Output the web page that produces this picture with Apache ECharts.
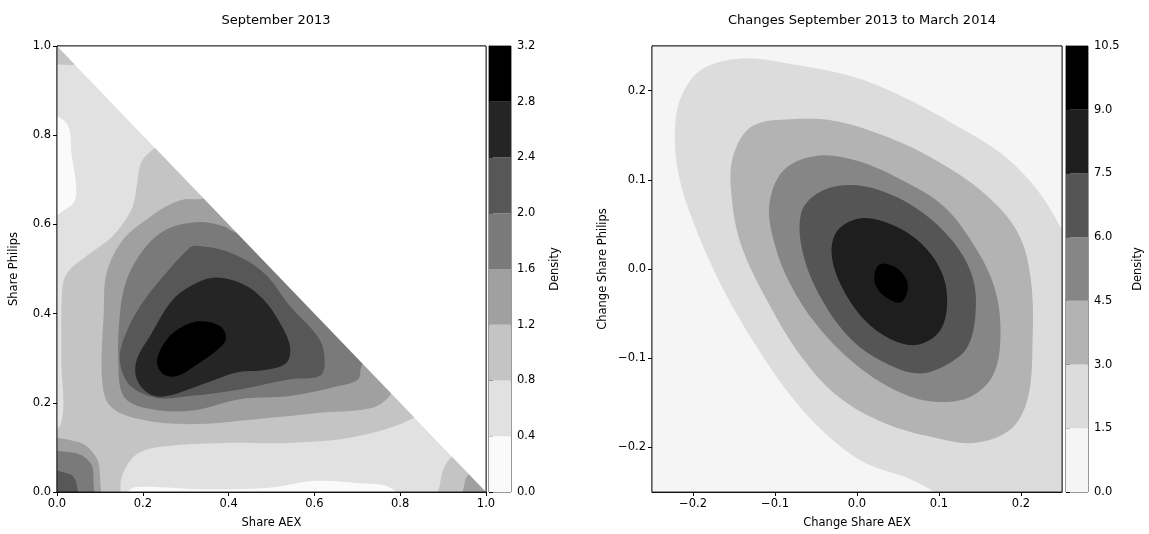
<!DOCTYPE html>
<html><head><meta charset="utf-8">
<script src="https://cdn.jsdelivr.net/npm/echarts@6/dist/echarts.min.js"></script>
<style>html,body{margin:0;background:#fff}#c{width:1149px;height:534px}</style>
</head><body><div id="c"></div>
<script>
// ---- Left panel: contour regions (Share AEX, Share Philips) ----
const leftLevels = [0,0.4,0.8,1.2,1.6,2.0,2.4,2.8,3.2];
const leftColors = ['#fafafa','#e1e1e1','#c4c4c4','#a0a0a0','#7a7a7a','#575757','#252525','#000000'];
const leftTriangle = [[0,0],[1,0],[0,1]];
const leftOutside = [[0,1],[1,0],[1.1,0],[1.1,1.1],[0,1.1]];
const leftFrame = [[0,0],[1,0],[1,1],[0,1]];
const leftHoleEdge = [[-0.05,0.843],[0.02,0.83],[0.035,0.75],[0.045,0.67],[0.03,0.64],[-0.05,0.61]];
const leftHoleBottom = [[0.15,-0.05],[0.17,0.005],[0.2,0.012],[0.35,0.006],[0.5,0.01],[0.6,0.025],[0.7,0.02],[0.78,0.008],[0.82,-0.05]];
const leftL2Main = [[0.32,0.85],[0.24,0.78],[0.198,0.742],[0.186,0.686],[0.174,0.634],[0.13,0.574],[0.07,0.53],[0.023,0.49],[0.012,0.45],[0.01,0.3],[0.008,0.15],[-0.05,0.13],[-0.05,-0.05],[0.14,-0.05],[0.15,0.03],[0.18,0.08],[0.23,0.1],[0.39,0.11],[0.54,0.11],[0.70,0.125],[0.833,0.167],[0.95,0.25],[0.7,0.6]];
const leftL2Corner = [[-0.05,1.05],[-0.05,0.97],[0.02,0.958],[0.06,0.965],[0.1,1.05]];
const leftL2Right = [[0.891,-0.05],[0.895,0.03],[0.905,0.06],[0.93,0.085],[0.99,0.1],[1.08,-0.05]];
const leftL3Main = [[0.42,0.72],[0.344,0.66],[0.295,0.656],[0.256,0.641],[0.209,0.611],[0.155,0.567],[0.116,0.492],[0.109,0.402],[0.105,0.253],[0.124,0.193],[0.194,0.163],[0.31,0.152],[0.465,0.163],[0.62,0.178],[0.736,0.189],[0.775,0.215],[0.8,0.26],[0.85,0.3],[0.6,0.6]];
const leftL3Blob = [[-0.05,0.115],[0.05,0.112],[0.09,0.08],[0.1,0.04],[0.095,-0.05]];
const leftL3Right = [[0.946,-0.05],[0.95,0.02],[0.96,0.04],[1.0,0.06],[1.08,-0.05]];
const leftL4Main = [[0.48,0.62],[0.422,0.582],[0.388,0.596],[0.326,0.605],[0.256,0.589],[0.202,0.544],[0.163,0.477],[0.147,0.402],[0.143,0.29],[0.155,0.215],[0.202,0.189],[0.31,0.182],[0.426,0.208],[0.543,0.215],[0.659,0.238],[0.702,0.253],[0.71,0.283],[0.74,0.33],[0.62,0.5]];
const leftL4Blob = [[-0.05,0.081],[0.04,0.088],[0.078,0.065],[0.085,0.028],[0.078,-0.05],[-0.05,-0.05]];
const leftL5Main = [[0.326,0.552],[0.403,0.537],[0.481,0.492],[0.543,0.417],[0.612,0.342],[0.624,0.29],[0.612,0.26],[0.543,0.253],[0.426,0.23],[0.31,0.215],[0.233,0.211],[0.171,0.238],[0.147,0.29],[0.155,0.342],[0.194,0.417],[0.248,0.484],[0.31,0.548]];
const leftL5Blob = [[-0.05,0.047],[0.03,0.04],[0.045,0.02],[0.047,-0.05],[-0.05,-0.05]];
const leftL6 = [[0.372,0.481],[0.434,0.466],[0.481,0.432],[0.519,0.38],[0.543,0.327],[0.535,0.29],[0.488,0.274],[0.419,0.268],[0.349,0.245],[0.256,0.215],[0.217,0.219],[0.186,0.253],[0.186,0.297],[0.217,0.35],[0.271,0.432],[0.326,0.469]];
const leftL7 = [[0.333,0.383],[0.38,0.372],[0.394,0.346],[0.38,0.324],[0.326,0.286],[0.279,0.26],[0.248,0.264],[0.233,0.294],[0.256,0.342],[0.295,0.372]];
const leftTicks = [0,0.2,0.4,0.6,0.8,1.0];

// ---- Right panel: changes ----
const rightLevels = [0,1.5,3.0,4.5,6.0,7.5,9.0,10.5];
const rightColors = ['#f5f5f5','#dcdcdc','#b3b3b3','#868686','#555555','#1e1e1e','#000000'];
const rightBase = [[-0.25,-0.25],[0.25,-0.25],[0.25,0.25],[-0.25,0.25]];
const rightL1 = [[-0.141,0.236],[-0.088,0.231],[-0.007,0.216],[0.054,0.194],[0.115,0.164],[0.175,0.13],[0.216,0.093],[0.245,0.052],[0.27,0.0],[0.3,-0.3],[0.14,-0.27],[0.066,-0.236],[0.009,-0.217],[-0.039,-0.184],[-0.08,-0.143],[-0.128,-0.079],[-0.169,-0.012],[-0.201,0.056],[-0.218,0.108],[-0.222,0.156],[-0.214,0.194],[-0.189,0.224]];
const rightL2 = [[-0.08,0.168],[-0.027,0.166],[0.034,0.149],[0.094,0.123],[0.155,0.085],[0.196,0.041],[0.212,-0.012],[0.214,-0.087],[0.208,-0.146],[0.187,-0.18],[0.143,-0.195],[0.094,-0.189],[0.034,-0.173],[-0.023,-0.143],[-0.068,-0.098],[-0.108,-0.038],[-0.141,0.026],[-0.153,0.082],[-0.151,0.127],[-0.128,0.16]];
const rightL3 = [[-0.048,0.127],[0.001,0.121],[0.054,0.1],[0.106,0.07],[0.143,0.026],[0.167,-0.019],[0.175,-0.068],[0.167,-0.117],[0.139,-0.143],[0.098,-0.149],[0.054,-0.139],[0.001,-0.109],[-0.048,-0.064],[-0.084,-0.012],[-0.104,0.041],[-0.106,0.078],[-0.088,0.112]];
const rightL4 = [[-0.015,0.094],[0.025,0.089],[0.074,0.067],[0.115,0.033],[0.139,-0.004],[0.145,-0.042],[0.135,-0.087],[0.106,-0.109],[0.074,-0.117],[0.034,-0.105],[-0.007,-0.079],[-0.043,-0.034],[-0.066,0.018],[-0.068,0.063],[-0.048,0.085]];
const rightL5 = [[0.005,0.057],[0.042,0.05],[0.078,0.029],[0.102,-0.001],[0.11,-0.034],[0.102,-0.068],[0.074,-0.085],[0.042,-0.079],[0.009,-0.057],[-0.019,-0.019],[-0.031,0.018],[-0.023,0.044]];
const rightL6 = [[0.034,0.006],[0.05,0],[0.062,-0.017],[0.056,-0.036],[0.046,-0.037],[0.029,-0.027],[0.021,-0.012],[0.025,0.003]];
const rightTicks = [-0.2,-0.1,0,0.1,0.2];

const font = 'DejaVu Sans';
function poly(pts, color, gi){
  return {type:'custom', xAxisIndex:gi, yAxisIndex:gi, clip:true, silent:true, data:[0],
    renderItem:(p,api)=>({type:'polygon', shape:{points:pts.map(q=>api.coord(q)), smooth:0.35}, style:{fill:color, stroke:null}})};
}
function polyS(pts,color,gi){ // straight edges
  return {type:'custom', xAxisIndex:gi, yAxisIndex:gi, clip:true, silent:true, data:[0],
    renderItem:(p,api)=>({type:'polygon', shape:{points:pts.map(q=>api.coord(q))}, style:{fill:color}})};
}
function frame(pts,gi){
  return {type:'custom', xAxisIndex:gi, yAxisIndex:gi, silent:true, data:[0],
    renderItem:(p,api)=>({type:'polygon', shape:{points:pts.map(q=>api.coord(q))}, style:{fill:null,stroke:'#000',lineWidth:0.8}})};
}
function cbar(levels, colors, gi){
  return {type:'custom', xAxisIndex:gi, yAxisIndex:gi, silent:true, data:colors.map((c,i)=>i),
    renderItem:(p,api)=>{const i=api.value(0); const a=api.coord([0,levels[i]]), b=api.coord([1,levels[i+1]]);
      return {type:'rect', shape:{x:a[0],y:b[1],width:b[0]-a[0],height:a[1]-b[1]}, style:{fill:colors[i]}};}};
}
const fmt1 = v=>{const s=(Math.round(v*10)/10).toFixed(1); return s.replace('-','\u2212');};
function mainX(gi,min,max,name,ticks,fmt){
  return {gridIndex:gi,type:'value',min,max,name,nameLocation:'middle',nameGap:25,nameTextStyle:{fontFamily:font,fontSize:11.5,color:'#000'},
    axisLine:{show:true,onZero:false,lineStyle:{color:'#000',width:0.8}},splitLine:{show:false},
    axisTick:{show:true,customValues:ticks,length:4,lineStyle:{color:'#000'}},axisLabel:{customValues:ticks,formatter:fmt,fontFamily:font,fontSize:11.5,color:'#000',margin:6}};
}
function mainY(gi,min,max,name,ticks,fmt,gap){
  const a=mainX(gi,min,max,name,ticks,fmt); a.nameGap=gap; a.nameRotate=90; return a;
}
function cbarY(gi,max,interval,gap){
  return {gridIndex:gi,type:'value',min:0,max,interval,position:'right',name:'Density',nameLocation:'middle',nameGap:gap,nameRotate:90,
     nameTextStyle:{fontFamily:font,fontSize:11.5,color:'#000'},axisLine:{show:true,lineStyle:{color:'#000',width:0.8}},splitLine:{show:false},
     axisTick:{show:true,length:4,lineStyle:{color:'#000'}},axisLabel:{formatter:v=>v.toFixed(1),fontFamily:font,fontSize:11.5,color:'#000',margin:6}};
}
const option = {
  animation:false,
  title:[{text:'September 2013',left:271,top:9,textAlign:'center',textStyle:{fontFamily:font,fontSize:13,fontWeight:'normal',color:'#000'}},
         {text:'Changes September 2013 to March 2014',left:857,top:9,textAlign:'center',textStyle:{fontFamily:font,fontSize:13,fontWeight:'normal',color:'#000'}}],
  grid:[{left:57,top:46,width:429,height:446,show:true,borderColor:'#000',borderWidth:0.8,backgroundColor:'#fff'},
        {left:489,top:46,width:22,height:446,show:true,borderColor:'#000',borderWidth:0.8},
        {left:652,top:46,width:410,height:446,show:true,borderColor:'#000',borderWidth:0.8},
        {left:1066,top:46,width:22,height:446,show:true,borderColor:'#000',borderWidth:0.8}],
  xAxis:[mainX(0,0,1,'Share AEX',leftTicks,fmt1),
    {gridIndex:1,type:'value',min:0,max:1,show:false},
    mainX(2,-0.25,0.25,'Change Share AEX',rightTicks,fmt1),
    {gridIndex:3,type:'value',min:0,max:1,show:false}],
  yAxis:[mainY(0,0,1,'Share Philips',leftTicks,fmt1,37),
    cbarY(1,3.2,0.4,38),
    mainY(2,-0.25,0.25,'Change Share Philips',rightTicks,fmt1,43),
    cbarY(3,10.5,1.5,44)],
  series:[
    polyS(leftTriangle,leftColors[1],0),
    poly(leftHoleEdge,leftColors[0],0),
    poly(leftHoleBottom,leftColors[0],0),
    poly(leftL2Main,leftColors[2],0), poly(leftL2Corner,leftColors[2],0), poly(leftL2Right,leftColors[2],0),
    poly(leftL3Main,leftColors[3],0), poly(leftL3Blob,leftColors[3],0), poly(leftL3Right,leftColors[3],0),
    poly(leftL4Main,leftColors[4],0), poly(leftL4Blob,leftColors[4],0),
    poly(leftL5Main,leftColors[5],0), poly(leftL5Blob,leftColors[5],0),
    poly(leftL6,leftColors[6],0), poly(leftL7,leftColors[7],0),
    polyS(leftOutside,'#ffffff',0),
    frame(leftFrame,0),
    cbar(leftLevels,leftColors,1),
    polyS(rightBase,rightColors[0],2),
    poly(rightL1,rightColors[1],2), poly(rightL2,rightColors[2],2), poly(rightL3,rightColors[3],2),
    poly(rightL4,rightColors[4],2), poly(rightL5,rightColors[5],2), poly(rightL6,rightColors[6],2),
    frame(rightBase,2),
    cbar(rightLevels,rightColors,3)
  ]
};
echarts.init(document.getElementById('c')).setOption(option);
</script></body></html>
